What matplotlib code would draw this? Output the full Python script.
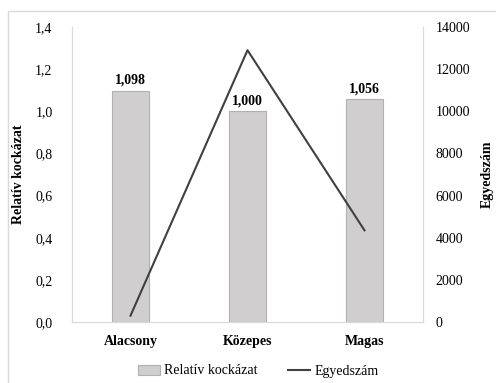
import matplotlib.pyplot as plt
from matplotlib.patches import Rectangle
from matplotlib.lines import Line2D
from matplotlib.ticker import FuncFormatter
import numpy as np

# adatok
kategoriak = ["Alacsony", "Közepes", "Magas"]
relativ_kockazat = [1.098, 1.000, 1.056]
egyedszam = [300, 12900, 4350]

plt.rcParams['font.family'] = ['Liberation Serif', 'DejaVu Serif']

fig = plt.figure(figsize=(4.96, 3.83), dpi=100)
ax = fig.add_axes([72 / 496, 1 - 322 / 383, 351 / 496, 295 / 383])

# keret a diagram korul
fig.patches.append(Rectangle((8 / 496, -0.1), 1.2, 1 - 11 / 383 + 0.1, transform=fig.transFigure,
                             fill=False, edgecolor="#d9d9d9", linewidth=1))

x = np.arange(len(kategoriak))
ax.bar(x, relativ_kockazat, width=0.31, color="#d0cece", edgecolor="#b0b0b0", linewidth=0.8, zorder=2)
for xi, v in zip(x, relativ_kockazat):
    ax.text(xi, v + 0.02, f"{v:.3f}".replace(".", ","), ha="center", va="bottom",
            fontsize=10, fontweight="bold")

ax.set_ylim(0, 1.4)
ax.set_yticks(np.arange(0, 1.41, 0.2))
ax.yaxis.set_major_formatter(FuncFormatter(lambda v, p: f"{v:.1f}".replace(".", ",")))
ax.set_xlim(-0.5, 2.5)
ax.set_xticks(x)
ax.set_xticklabels(kategoriak, fontweight="bold", fontsize=10)
ax.set_ylabel("Relatív kockázat", fontweight="bold", fontsize=10)
ax.yaxis.set_label_coords(-47 / 351, 0.5)
ax.tick_params(axis="both", length=0, labelsize=10)
ax.tick_params(axis="x", pad=9)
ax.tick_params(axis="y", pad=14)

ax2 = ax.twinx()
ax2.plot(x, egyedszam, color="#404040", linewidth=1.5, zorder=3)
ax2.set_ylim(0, 14000)
ax2.set_yticks(np.arange(0, 14001, 2000))
ax2.set_ylabel("Egyedszám", fontweight="bold", fontsize=10)
ax2.yaxis.set_label_coords(409 / 351, 0.5)
ax2.tick_params(axis="y", length=0, labelsize=10, pad=9)

for a in (ax, ax2):
    a.spines["top"].set_visible(False)
    for s in ("left", "right", "bottom"):
        a.spines[s].set_color("#d9d9d9")

kezelok = [Rectangle((0, 0), 1, 1, facecolor="#d0cece", edgecolor="#b0b0b0", linewidth=0.8),
           Line2D([0], [0], color="#404040", linewidth=1.5)]
fig.legend(kezelok, ["Relatív kockázat", "Egyedszám"], loc="center", bbox_to_anchor=(258 / 496, 1 - 371 / 383),
           ncol=2, frameon=False, fontsize=10, handlelength=1.6, handletextpad=0.3, columnspacing=2.2)

fig.savefig("out.png", dpi=100)
